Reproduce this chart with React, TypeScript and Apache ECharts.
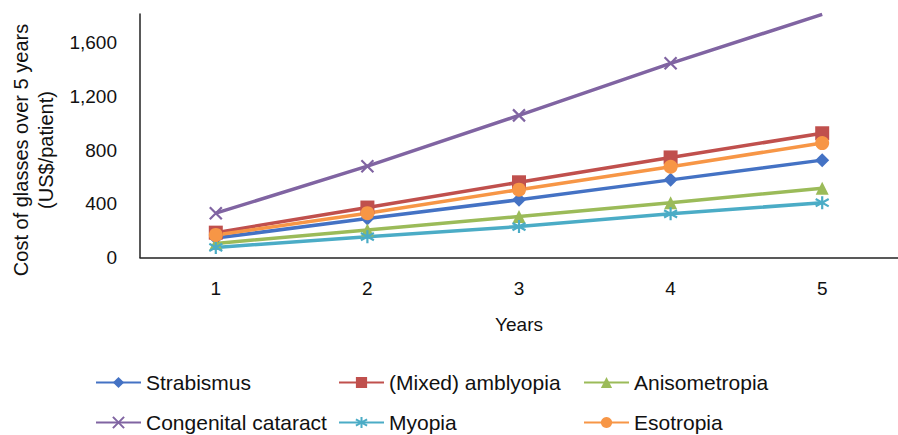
import React, { useEffect, useRef } from "react";
import * as echarts from "echarts";

const years = ["1", "2", "3", "4", "5"];
const yTicks = [0, 400, 800, 1200, 1600];
const strabismus = [145, 290, 430, 578, 725];
const amblyopia = [185, 372, 560, 745, 925];
const anisometropia = [105, 205, 305, 408, 515];
const cataract = [330, 680, 1058, 1446, 1810];
const myopia = [75, 155, 230, 325, 408];
const esotropia = [168, 330, 505, 676, 852];

const FONT = "'Liberation Sans', Arial, sans-serif";
const X_PATH = "path://M0,0 L10,10 M10,0 L0,10";
const STAR_PATH = "path://M5,0 L5,10 M0,2.2 L10,7.8 M0,7.8 L10,2.2";

export default function App() {
  const ref = useRef<HTMLDivElement>(null);
  useEffect(() => {
    document.body.style.margin = "0";
    const chart = echarts.init(ref.current!, null, { renderer: "svg" });
    const mk = (name: string, data: any[], color: string, symbol: string, size: number, stroke = false) => ({
      name,
      type: "line",
      data,
      symbol,
      symbolSize: size,
      showSymbol: true,
      clip: true,
      lineStyle: { color, width: 3.5 },
      itemStyle: { color, borderColor: color, borderWidth: stroke ? 2.2 : 0 },
      emphasis: { disabled: true },
    });
    const cataractData = cataract.map((v, i) => (i === cataract.length - 1 ? { value: v, symbol: "none" } : v));
    const legendBase = {
      orient: "vertical",
      itemWidth: 45,
      itemHeight: 14,
      itemGap: 17,
      top: 371,
      height: 120,
      padding: 0,
      selectedMode: false,
      textStyle: { fontFamily: FONT, fontSize: 21, color: "#111", lineHeight: 23 },
    };
    chart.setOption({
      animation: false,
      textStyle: { fontFamily: FONT },
      grid: { left: 140, top: 14, width: 771.5, height: 243.5, containLabel: false },
      legend: [
        { ...legendBase, left: 95, data: ["Strabismus", "Congenital cataract"] },
        { ...legendBase, left: 338, data: ["(Mixed) amblyopia", "Myopia"] },
        { ...legendBase, left: 583, data: ["Anisometropia", "Esotropia"] },
      ],
      xAxis: {
        type: "category",
        data: years,
        boundaryGap: true,
        axisLine: { lineStyle: { color: "#222", width: 1.5 } },
        axisTick: { show: false },
        axisLabel: { fontFamily: FONT, fontSize: 19, color: "#111", margin: 21 },
        name: "Years",
        nameLocation: "middle",
        nameGap: 57,
        nameTextStyle: { fontFamily: FONT, fontSize: 19, color: "#111" },
      },
      yAxis: {
        type: "value",
        min: yTicks[0],
        max: 1813,
        interval: yTicks[1] - yTicks[0],
        splitLine: { show: false },
        axisLine: { show: true, lineStyle: { color: "#222", width: 1.5 } },
        axisTick: { show: false },
        axisLabel: {
          fontFamily: FONT,
          fontSize: 19,
          color: "#111",
          margin: 23,
          showMaxLabel: false,
          formatter: (v: number) => v.toLocaleString("en-US"),
        },
      },
      graphic: [
        {
          type: "text",
          x: 33,
          y: 150,
          rotation: Math.PI / 2,
          style: {
            text: "Cost of glasses over 5 years\n(US$/patient)",
            fontFamily: FONT,
            fontSize: 20,
            lineHeight: 25,
            fill: "#111",
            textAlign: "center",
            textVerticalAlign: "middle",
          },
        },
      ],
      series: [
        mk("Strabismus", strabismus, "#4472C4", "diamond", 14),
        mk("(Mixed) amblyopia", amblyopia, "#C0504D", "rect", 14),
        mk("Anisometropia", anisometropia, "#9BBB59", "triangle", 13),
        mk("Congenital cataract", cataractData, "#8064A2", X_PATH, 12, true),
        mk("Myopia", myopia, "#4BACC6", STAR_PATH, 13, true),
        mk("Esotropia", esotropia, "#F79646", "circle", 14),
      ],
    });
    return () => chart.dispose();
  }, []);
  return <div ref={ref} style={{ width: 898, height: 435 }} />;
}
